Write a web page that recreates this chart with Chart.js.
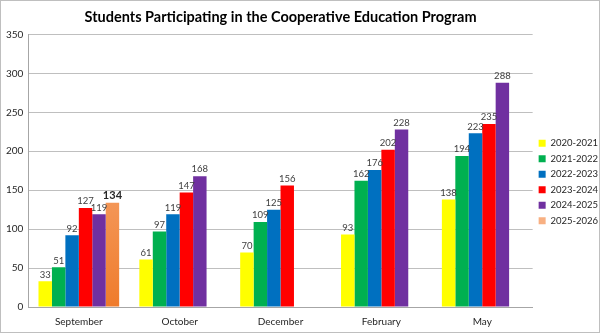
<!DOCTYPE html>
<html>
<head>
<meta charset="utf-8">
<script src="https://cdn.jsdelivr.net/npm/chart.js@4"></script>
<style>
  body { margin: 0; background: #fff; }
  #wrap { width: 600px; height: 333px; box-sizing: border-box; border: 1px solid #bfbfbf; position: relative; }
</style>
</head>
<body>
<div id="wrap"><canvas id="coopchart"></canvas></div>
<script>
// data
var months = ['September', 'October', 'December', 'February', 'May'];
var years = ['2020-2021', '2021-2022', '2022-2023', '2023-2024', '2024-2025', '2025-2026'];
var y2020 = [33, 61, 70, 93, 138];
var y2021 = [51, 97, 109, 162, 194];
var y2022 = [92, 119, 125, 176, 223];
var y2023 = [127, 147, 156, 202, 235];
var y2024 = [119, 168, null, 228, 288];
var y2025 = [134, null, null, null, null];

var colors = ['#FFFF00', '#00B050', '#0070C0', '#FF0000', '#7030A0', '#F8B082'];
var fontFam = 'Lato, "Liberation Sans", sans-serif';

// orange bar fades from peach at the top to orange at the bottom
function orangeFill(context) {
    var chart = context.chart;
    var area = chart.chartArea;
    if (!area) return colors[5];
    var el = context.element;
    var top = el && el.y ? el.y : area.top;
    var g = chart.ctx.createLinearGradient(0, top, 0, area.bottom);
    g.addColorStop(0, '#FBC19B');
    g.addColorStop(1, '#EF7B2B');
    return g;
}

// values above each bar
var valueLabels = {
    id: 'valueLabels',
    afterDatasetsDraw: function (chart) {
        var ctx = chart.ctx;
        ctx.save();
        ctx.textAlign = 'center';
        ctx.textBaseline = 'bottom';
        chart.data.datasets.forEach(function (ds, i) {
            var meta = chart.getDatasetMeta(i);
            meta.data.forEach(function (bar, j) {
                var v = ds.data[j];
                if (v === null || v === undefined) return;
                if (i === 5) {
                    ctx.font = 'bold 11px ' + fontFam;
                    ctx.fillStyle = '#262626';
                } else {
                    ctx.font = '9.5px ' + fontFam;
                    ctx.fillStyle = '#404040';
                }
                ctx.fillText(v, bar.x, bar.y - 2);
            });
        });
        ctx.restore();
    }
};

var allData = [y2020, y2021, y2022, y2023, y2024, y2025];
var datasets = allData.map(function (d, i) {
    return {
        label: years[i],
        data: d,
        backgroundColor: i === 5 ? orangeFill : colors[i],
        borderWidth: 0,
        categoryPercentage: 0.8,
        barPercentage: 1.0
    };
});

var ctx = document.getElementById('coopchart').getContext('2d');

var coopchart = new Chart(ctx, {
    type: 'bar',
    data: {
        labels: months,
        datasets: datasets
    },
    plugins: [valueLabels],
    options: {
        responsive: true,
        maintainAspectRatio: false,
        animation: false,
        layout: {
            padding: { left: 0, right: -9, top: 6, bottom: -5 }
        },
        scales: {
            x: {
                grid: { display: false, drawTicks: false },
                border: { color: '#a6a6a6' },
                ticks: { color: '#262626', font: { family: fontFam, size: 10 }, padding: 9 }
            },
            y: {
                min: 0,
                max: 350,
                ticks: { stepSize: 50, color: '#262626', font: { family: fontFam, size: 10 }, padding: 5 },
                grid: { color: '#bfbfbf', drawTicks: false },
                border: { color: '#a6a6a6' }
            }
        },
        plugins: {
            title: {
                display: true,
                fullSize: false,
                text: 'Students Participating in the Cooperative Education Program',
                color: '#000',
                font: { family: fontFam, size: 14.5, weight: 'bold' },
                padding: { top: 2, bottom: 8 }
            },
            legend: {
                position: 'right',
                title: {
                    display: true,
                    text: ' ',
                    font: { size: 1 },
                    padding: { top: 19, bottom: 0 }
                },
                labels: {
                    boxWidth: 7,
                    boxHeight: 7,
                    padding: 6,
                    color: '#262626',
                    font: { family: fontFam, size: 9.5 },
                    generateLabels: function (chart) {
                        var items = Chart.defaults.plugins.legend.labels.generateLabels(chart);
                        items.forEach(function (it, i) {
                            it.fillStyle = colors[i];
                            it.strokeStyle = colors[i];
                            it.lineWidth = 0;
                        });
                        return items;
                    }
                }
            },
            tooltip: { enabled: false }
        }
    }
});
</script>
</body>
</html>
